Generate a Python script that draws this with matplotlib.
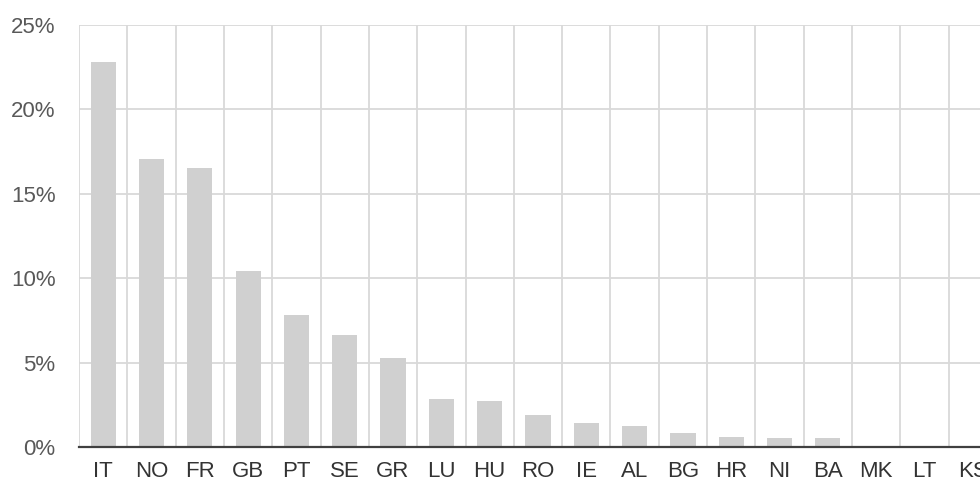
import matplotlib.pyplot as plt
from matplotlib.ticker import FuncFormatter, MultipleLocator

countries = ["IT", "NO", "FR", "GB", "PT", "SE", "GR", "LU", "HU", "RO",
             "IE", "AL", "BG", "HR", "NI", "BA", "MK", "LT", "KS"]
share = [22.8, 17.05, 16.5, 10.4, 7.8, 6.63, 5.29, 2.83, 2.74, 1.91,
         1.40, 1.26, 0.85, 0.59, 0.55, 0.55, 0.06, 0.0, 0.0]

plt.rcParams['font.family'] = ['Liberation Sans', 'DejaVu Sans']

fig = plt.figure(figsize=(9.8, 4.84), dpi=100)
# axes runs past the right edge of the figure, as in the source (KS gets clipped)
ax = fig.add_axes([79 / 980, 37 / 484, 918 / 980, 422 / 484])

x = range(len(countries))
ax.bar(x, share, width=0.52, color="#d0d0d0", zorder=2)

ax.set_xlim(-0.5, len(countries) - 0.5)
ax.set_ylim(0, 25)
ax.yaxis.set_major_locator(MultipleLocator(5))
ax.yaxis.set_major_formatter(FuncFormatter(lambda v, p: "%d%%" % v))

ax.set_xticks(list(x))
ax.set_xticklabels(countries)
ax.set_xticks([i - 0.5 for i in range(len(countries) + 1)], minor=True)

ax.grid(True, axis='y', which='major', color="#d9d9d9", linewidth=1.3, zorder=0)
ax.grid(True, axis='x', which='minor', color="#d9d9d9", linewidth=1.3, zorder=0)
ax.grid(False, axis='x', which='major')

for s in ['top', 'right', 'left']:
    ax.spines[s].set_visible(False)
ax.spines['bottom'].set_color("#404040")
ax.spines['bottom'].set_linewidth(1.6)
ax.spines['bottom'].set_zorder(3)

ax.tick_params(axis='y', length=0, pad=17, labelsize=16, labelcolor="#595959")
ax.tick_params(axis='x', which='major', length=0, pad=10, labelsize=16, labelcolor="#333333")
ax.tick_params(axis='x', which='minor', length=0)

fig.savefig("out.png", dpi=100)
